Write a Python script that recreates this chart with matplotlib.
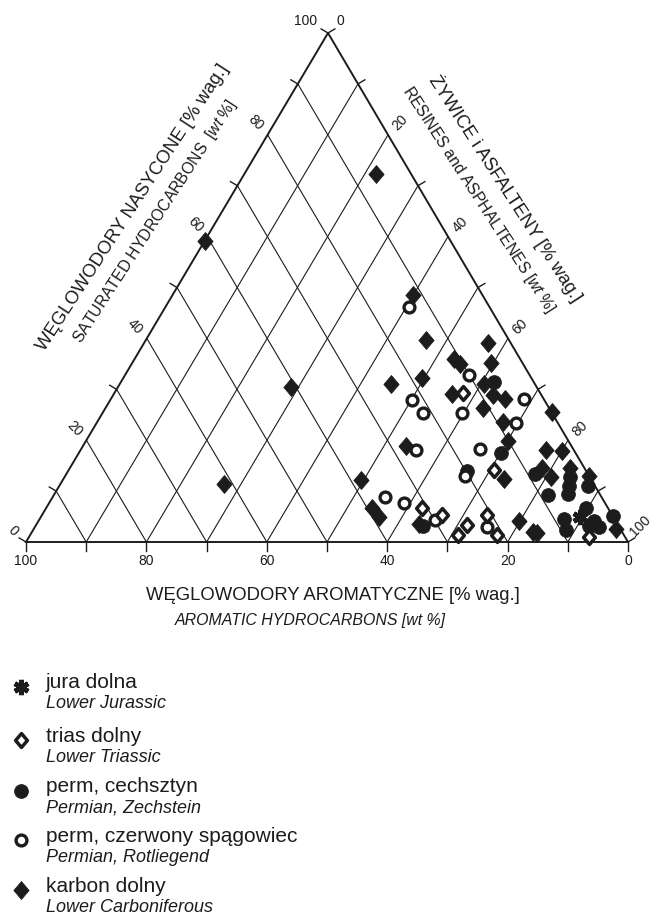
import matplotlib
matplotlib.use("Agg")
import matplotlib.pyplot as plt
from matplotlib.path import Path
import numpy as np

plt.rcParams['font.family'] = ['Liberation Sans', 'DejaVu Sans']
plt.rcParams['mathtext.fontset'] = 'custom'
plt.rcParams['mathtext.rm'] = 'Liberation Sans'
plt.rcParams['mathtext.it'] = 'Liberation Sans:italic'

# ternary data [% wag.]: saturated, aromatic; resins+asphaltenes = rest
karbon_sat = [72.3, 59.2, 30.5, 11.3, 48.5, 39.7, 39.1, 35.9, 35.0, 35.2, 31.1, 32.2,
              31.1, 29.0, 28.9, 28.1, 26.3, 25.5, 23.5, 19.8, 18.9, 18.0, 17.8, 12.3,
              14.6, 12.7, 14.6, 13.0, 12.2, 6.6, 4.9, 3.5, 4.1, 1.9, 1.7, 2.6]
karbon_aro = [5.8, 40.8, 40.8, 61.4, 11.5, 13.8, 3.7, 11.0, 10.5, 5.2, 23.9, 18.2,
              8.4, 14.8, 8.0, 6.5, 11.0, 0.0, 9.0, 10.0, 27.4, 4.7, 2.1, 14.5,
              7.0, 6.5, 2.4, 0.0, 38.3, 39.2, 38.9, 33.0, 16.0, 14.9, 14.3, 0.7]

cech_sat = [31.5, 17.5, 14.0, 13.3, 9.3, 12.7, 11.1, 9.4, 11.1, 6.7, 5.1, 4.6, 2.4,
            4.1, 3.0, 3.1, 3.1]
cech_aro = [6.6, 12.3, 19.7, 8.8, 8.7, 3.3, 4.2, 5.2, 1.1, 3.6, 0.0, 8.4, 9.1,
            3.6, 3.4, 4.9, 32.5]

rotl_sat = [46.2, 32.8, 28.0, 27.9, 25.3, 25.3, 23.4, 18.3, 18.1, 12.9, 8.9, 7.6, 4.4, 3.0]
rotl_aro = [13.3, 10.1, 3.4, 22.0, 21.5, 15.0, 7.0, 15.5, 26.2, 20.6, 36.0, 33.4, 29.9, 22.0]

trias_sat = [29.3, 14.2, 6.7, 5.4, 3.4, 1.4, 5.4, 1.4, 1.0]
trias_aro = [12.8, 15.2, 30.8, 28.2, 25.1, 27.6, 20.8, 21.1, 6.0]

jura_sat = [5.0]
jura_aro = [5.5]

ticks = [0, 10, 20, 30, 40, 50, 60, 70, 80, 90, 100]

# triangle corners in figure pixels (aromatic=100, saturated=100, resins=100)
BL = np.array([26.0, 542.0])
TOP = np.array([328.0, 33.0])
BR = np.array([628.0, 542.0])

INK = '#1c1c1c'


def to_xy(sat, aro):
    s = np.asarray(sat, dtype=float) / 100.0
    a = np.asarray(aro, dtype=float) / 100.0
    r = 1.0 - s - a
    x = a * BL[0] + s * TOP[0] + r * BR[0]
    y = a * BL[1] + s * TOP[1] + r * BR[1]
    return x, y


fig = plt.figure(figsize=(6.56, 9.15), dpi=100)
ax = fig.add_axes([0, 0, 1, 1])
ax.set_xlim(0, 656)
ax.set_ylim(915, 0)
ax.axis('off')

# diamond grid (no horizontal lines)
for v in ticks[1:-1]:
    x, y = to_xy([100 - v, 0], [v, v])
    ax.plot(x, y, color=INK, lw=0.8)
    x, y = to_xy([0, 100 - v], [100 - v, 0])
    ax.plot(x, y, color=INK, lw=0.8)

# frame
x, y = to_xy([0, 100, 0, 0], [100, 0, 0, 100])
ax.plot(x, y, color=INK, lw=1.4, solid_joinstyle='miter')

# bottom axis (aromatic)
for v in ticks:
    x, y = to_xy(0, v)
    ax.plot([x, x], [y, y + 9], color=INK, lw=1.0)
    if v % 20 == 0:
        ax.text(x, y + 19, str(v), ha='center', va='center', fontsize=10, color=INK)

# left axis (saturated) and right axis (resins)
nl = np.array([-0.86, -0.51])
nr = np.array([0.86, -0.51])
for v in ticks:
    xl, yl = to_xy(v, 100 - v)
    xr, yr = to_xy(100 - v, 0)
    if v % 20 == 10 or v in (0, 100):
        ax.plot([xl, xl + 8 * nl[0]], [yl, yl + 8 * nl[1]], color=INK, lw=1.0)
        ax.plot([xr, xr + 8 * nr[0]], [yr, yr + 8 * nr[1]], color=INK, lw=1.0)
    if v % 20 == 0 and v not in (0, 100):
        ax.text(xl - 12, yl - 12, str(v), ha='center', va='center', rotation=-45,
                fontsize=10, color=INK)
        ax.text(xr + 12, yr - 12, str(v), ha='center', va='center', rotation=45,
                fontsize=10, color=INK)
# corner labels
ax.text(BL[0] - 13, BL[1] - 11, '0', ha='center', va='center', rotation=-45, fontsize=10, color=INK)
ax.text(BR[0] + 12, BR[1] - 16, '100', ha='center', va='center', rotation=45, fontsize=10, color=INK)
ax.text(TOP[0] - 22, TOP[1] - 12, '100', ha='center', va='center', fontsize=10, color=INK)
ax.text(TOP[0] + 12, TOP[1] - 12, '0', ha='center', va='center', fontsize=10, color=INK)

# axis titles
ax.text(133, 208, 'WĘGLOWODORY NASYCONE [% wag.]', rotation=57, ha='center', va='center',
        rotation_mode='anchor', fontsize=13.3, color=INK)
ax.text(155, 221, r'SATURATED HYDROCARBONS  $\mathit{[wt\ \%]}$', rotation=57,
        ha='center', va='center', rotation_mode='anchor', fontsize=11.3, color=INK)

ax.text(506, 188, 'ŻYWICE i ASFALTENY [% wag.]', rotation=-57, ha='center', va='center',
        rotation_mode='anchor', fontsize=13.3, color=INK)
ax.text(479, 200, r'RESINES and ASPHALTENES $\mathit{[wt\ \%]}$', rotation=-57,
        ha='center', va='center', rotation_mode='anchor', fontsize=11.3, color=INK)

ax.text(333, 596, 'WĘGLOWODORY AROMATYCZNE [% wag.]', ha='center', va='center',
        fontsize=13.3, color=INK)
ax.text(310, 620, 'AROMATIC HYDROCARBONS [wt %]', ha='center', va='center',
        fontsize=11.4, style='italic', color=INK)

# markers
diamond = Path([(0, 1), (0.85, 0), (0, -1), (-0.85, 0), (0, 1)],
               [Path.MOVETO, Path.LINETO, Path.LINETO, Path.LINETO, Path.CLOSEPOLY])

styles = {
    'karbon': dict(marker=diamond, ms=13.0, mfc=INK, mec=INK, mew=0.5),
    'cech': dict(marker='o', ms=10.0, mfc=INK, mec=INK, mew=0.5),
    'rotl': dict(marker='o', ms=7.8, mfc='white', mec=INK, mew=2.4),
    'trias': dict(marker=diamond, ms=10.0, mfc='white', mec=INK, mew=2.5),
    'jura': dict(marker=(6, 2, 0), ms=11.0, mfc=INK, mec=INK, mew=3.5),
}

for key, sat, aro in [('karbon', karbon_sat, karbon_aro),
                      ('cech', cech_sat, cech_aro),
                      ('rotl', rotl_sat, rotl_aro),
                      ('trias', trias_sat, trias_aro),
                      ('jura', jura_sat, jura_aro)]:
    x, y = to_xy(sat, aro)
    ax.plot(x, y, ls='none', **styles[key])

# legend
legend = [('jura', 'jura dolna', 'Lower Jurassic', 687),
          ('trias', 'trias dolny', 'Lower Triassic', 740),
          ('cech', 'perm, cechsztyn', 'Permian, Zechstein', 791),
          ('rotl', 'perm, czerwony spągowiec', 'Permian, Rotliegend', 840),
          ('karbon', 'karbon dolny', 'Lower Carboniferous', 890)]
for key, pl, en, ym in legend:
    ax.plot([20.5], [ym], ls='none', **styles[key])
    ax.text(46, ym - 4, pl, ha='left', va='center', fontsize=15, color=INK)
    ax.text(46, ym + 17, en, ha='left', va='center', fontsize=13, style='italic', color=INK)

fig.savefig('out.png', dpi=100)
